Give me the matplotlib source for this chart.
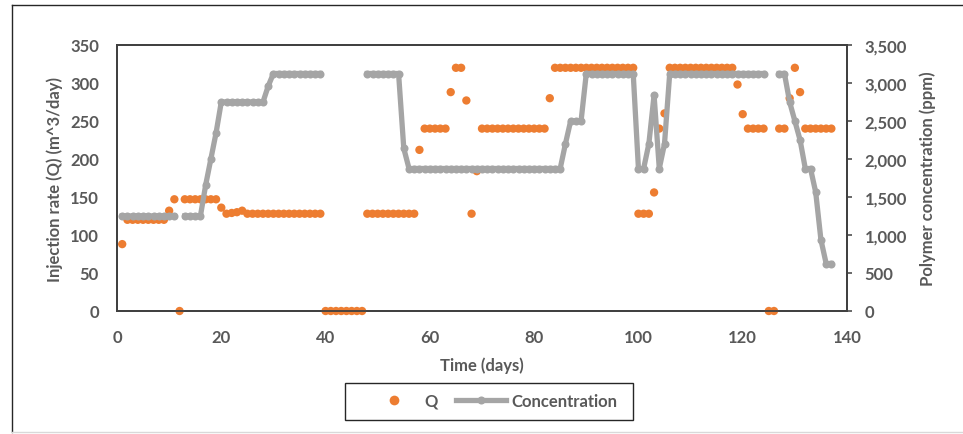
import numpy as np
import matplotlib
matplotlib.use("Agg")
import matplotlib.pyplot as plt
from matplotlib.ticker import FuncFormatter
from matplotlib.lines import Line2D
from matplotlib.patches import Rectangle

nan = np.nan
days = list(range(1, 138))

q_rate = [
    88, 120, 120, 120, 120, 120, 120, 120, 120, 132,
    147, 0, 147, 147, 147, 147, 147, 147, 147, 136,
    128, 129, 130, 132, 128, 128, 128, 128, 128, 128,
    128, 128, 128, 128, 128, 128, 128, 128, 128, 0,
    0, 0, 0, 0, 0, 0, 0, 128, 128, 128,
    128, 128, 128, 128, 128, 128, 128, 212, 240, 240,
    240, 240, 240, 288, 320, 320, 277, 128, 184, 240,
    240, 240, 240, 240, 240, 240, 240, 240, 240, 240,
    240, 240, 280, 320, 320, 320, 320, 320, 320, 320,
    320, 320, 320, 320, 320, 320, 320, 320, 320, 128,
    128, 128, 156, 240, 260, 320, 320, 320, 320, 320,
    320, 320, 320, 320, 320, 320, 320, 320, 298, 259,
    240, 240, 240, 240, 0, 0, 240, 240, 280, 320,
    288, 240, 240, 240, 240, 240, 240,
]

concentration = [
    1250, 1250, 1250, 1250, 1250, 1250, 1250, 1250, 1250, 1250,
    1250, nan, 1250, 1250, 1250, 1250, 1656, 2000, 2344, 2750,
    2750, 2750, 2750, 2750, 2750, 2750, 2750, 2750, 2960, 3125,
    3125, 3125, 3125, 3125, 3125, 3125, 3125, 3125, 3125, nan,
    nan, nan, nan, nan, nan, nan, nan, 3125, 3125, 3125,
    3125, 3125, 3125, 3125, 2140, 1875, 1875, 1875, 1875, 1875,
    1875, 1875, 1875, 1875, 1875, 1875, 1875, 1875, 1875, 1875,
    1875, 1875, 1875, 1875, 1875, 1875, 1875, 1875, 1875, 1875,
    1875, 1875, 1875, 1875, 1875, 2200, 2500, 2500, 2500, 3125,
    3125, 3125, 3125, 3125, 3125, 3125, 3125, 3125, 3125, 1875,
    1875, 2200, 2840, 1875, 2200, 3125, 3125, 3125, 3125, 3125,
    3125, 3125, 3125, 3125, 3125, 3125, 3125, 3125, 3125, 3125,
    3125, 3125, 3125, 3125, nan, nan, 3125, 3125, 2750, 2500,
    2250, 1875, 1875, 1562, 937, 625, 625,
]

x_ticks = [0, 20, 40, 60, 80, 100, 120, 140]
left_ticks = [0, 50, 100, 150, 200, 250, 300, 350]
right_ticks = [0, 500, 1000, 1500, 2000, 2500, 3000, 3500]

ORANGE = "#ED7D31"
GRAY = "#A5A5A5"
TXT = "#595959"
SPINE = "#404040"
FONT = ["Lato", "DejaVu Sans"]
FS = 12

plt.rcParams['font.family'] = FONT

W, H = 963, 435
fig = plt.figure(figsize=(W / 100, H / 100), dpi=100)

# outer chart border
fig.add_artist(Line2D([12 / W, 12 / W], [2 / H, 1 - 6 / H], transform=fig.transFigure,
                      color="#262626", lw=1.0))
fig.add_artist(Line2D([12 / W, 1.0], [1 - 6 / H, 1 - 6 / H], transform=fig.transFigure,
                      color="#262626", lw=1.0))
fig.add_artist(Line2D([12 / W, 1.0], [2 / H, 2 / H], transform=fig.transFigure,
                      color="#D9D9D9", lw=1.0))

ax = fig.add_axes([117 / W, (H - 312) / H, 730 / W, 266 / H])
ax2 = ax.twinx()

ax.scatter(days, q_rate, s=36, color=ORANGE, edgecolors="none", zorder=3, clip_on=False)
ax2.plot(days, concentration, color=GRAY, lw=3.8, marker="o", ms=5.8,
         markeredgewidth=0, zorder=3, clip_on=False)

ax.set_xlim(0, 140)
ax.set_ylim(0, 350)
ax2.set_ylim(0, 3500)
ax.set_xticks(x_ticks)
ax.set_yticks(left_ticks)
ax2.set_yticks(right_ticks)
ax2.yaxis.set_major_formatter(FuncFormatter(lambda v, p: f"{int(v):,}"))

for a in (ax, ax2):
    for s in a.spines.values():
        s.set_color(SPINE)
        s.set_linewidth(1.3)

ax.tick_params(axis="x", length=0, pad=13, labelsize=FS, labelcolor=TXT)
ax.tick_params(axis="y", length=0, pad=13, labelsize=FS, labelcolor=TXT)
ax2.tick_params(axis="y", length=3.6, width=1.1, color=SPINE, direction="out", pad=9,
                labelsize=FS, labelcolor=TXT)
for lab in ax.get_xticklabels() + ax.get_yticklabels() + ax2.get_yticklabels():
    lab.set_fontweight("bold")

ax.set_xlabel("Time (days)", fontsize=FS, color=TXT, fontweight="bold", labelpad=8)
ax.set_ylabel("Injection rate (Q) (m^3/day)", fontsize=FS, color=TXT, fontweight="bold",
              labelpad=5)
ax2.set_ylabel("Polymer concentration (ppm)", fontsize=FS, color=TXT, fontweight="bold",
               labelpad=9)

# legend frame drawn at the reference position
fig.add_artist(Rectangle((345 / W, (H - 421) / H), 288 / W, 37 / H, transform=fig.transFigure,
                         fill=False, edgecolor="#262626", lw=1.0))

handles = [
    Line2D([], [], color=ORANGE, marker="o", ls="none", ms=7, markeredgewidth=0),
    Line2D([], [], color=GRAY, lw=3.8, marker="o", ms=5.8, markeredgewidth=0),
]
leg = fig.legend(handles, ["Q", "Concentration"], loc="center left",
                 bbox_to_anchor=(361 / W, (H - 402) / H), ncol=2, frameon=False,
                 prop={"family": FONT, "weight": "bold", "size": FS},
                 handlelength=3.0, columnspacing=1.1, borderpad=0.0, handletextpad=0.3)
for t in leg.get_texts():
    t.set_color(TXT)

fig.savefig("out.png", dpi=100)
